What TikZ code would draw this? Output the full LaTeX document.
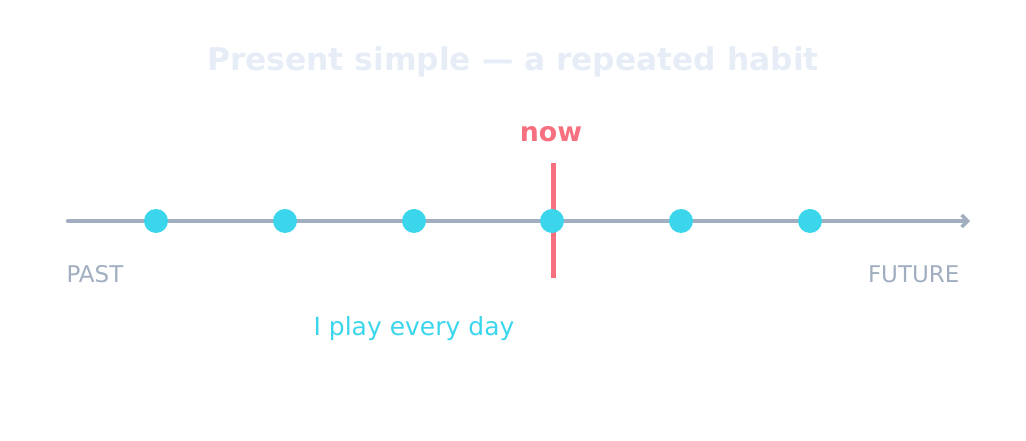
\documentclass[tikz,border=0pt]{standalone}
\usepackage{fontspec}
\setmainfont{DejaVu Sans}
\usetikzlibrary{arrows.meta}
\definecolor{titlec}{HTML}{E6EDF7}
\definecolor{axisc}{HTML}{A0AEC0}
\definecolor{dotc}{HTML}{3BD6EC}
\definecolor{nowc}{HTML}{F6707F}
\begin{document}
\begin{tikzpicture}[x=1pt,y=1pt,
  dot/.style={circle,fill=dotc,inner sep=0pt,minimum size=24pt},
  lbl/.style={text=axisc,font=\fontsize{23}{27}\selectfont}]
\useasboundingbox (0,0) rectangle (1026,441);
\node[text=titlec,font=\bfseries\fontsize{31.3}{38}\selectfont] (title) at (513,379) {Present simple — a repeated habit};
\coordinate (a0) at (68,220);
\coordinate (a1) at (970,220);
\draw[axisc,line width=4.5pt,line cap=round,-{Straight Barb[length=6pt,width=12pt,line width=3.5pt]}] (a0) -- (a1);
\coordinate (n0) at (553,278);
\coordinate (n1) at (553,163);
\draw[nowc,line width=5pt] (n0) -- (n1);
\node[text=nowc,font=\bfseries\fontsize{26.8}{32}\selectfont] (now) at (551,307) {now};
\foreach \i/\x in {1/156,2/285,3/414,4/552,5/681,6/810}
  \node[dot] (d\i) at (\x,220) {};
\node[lbl,anchor=west] (past) at (63,167) {PAST};
\node[lbl,anchor=east] (future) at (963,167) {FUTURE};
\node[text=dotc,font=\fontsize{25}{30}\selectfont] (habit) at (414,112) {I play every day};
\end{tikzpicture}
\end{document}
